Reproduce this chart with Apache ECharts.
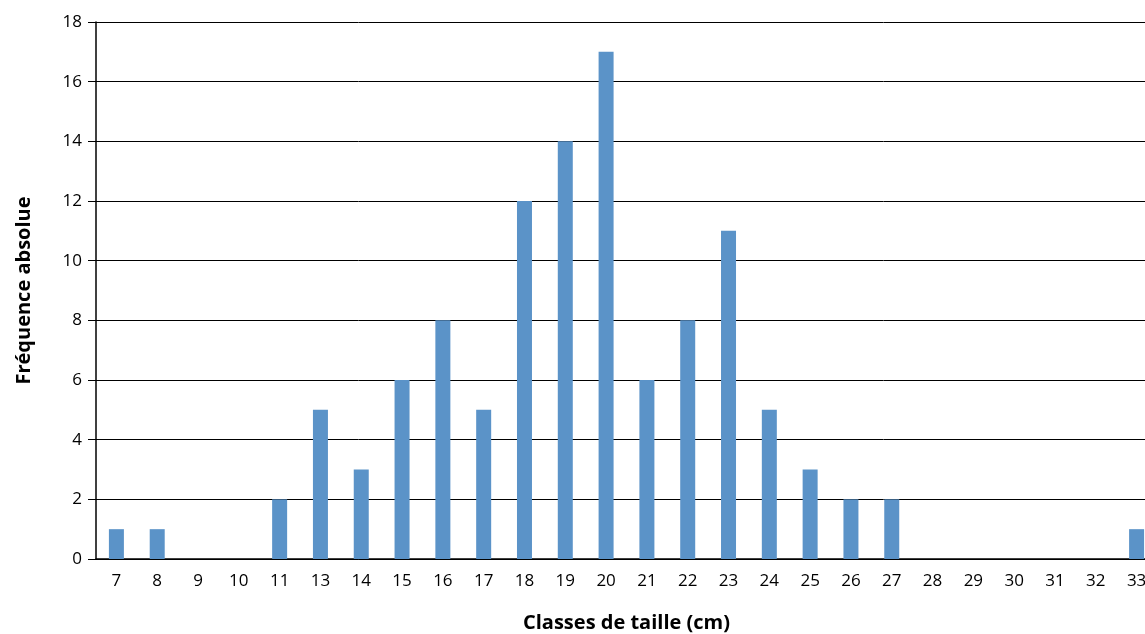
<!DOCTYPE html>
<html><head><meta charset="utf-8">
<script src="https://cdn.jsdelivr.net/npm/echarts@6/dist/echarts.min.js"></script>
<style>html,body{margin:0;padding:0;background:#fff}#c{width:1145px;height:634px}</style>
</head><body><div id="c"></div>
<script>
const categories = ['7','8','9','10','11','13','14','15','16','17','18','19','20','21','22','23','24','25','26','27','28','29','30','31','32','33'];
const frequencies = [1,1,0,0,2,5,3,6,8,5,12,14,17,6,8,11,5,3,2,2,0,0,0,0,0,1];
const yTicks = [0,2,4,6,8,10,12,14,16,18];
const xTitle = 'Classes de taille (cm)';
const yTitle = 'Fréquence absolue';

const chart = echarts.init(document.getElementById('c'), null, {renderer:'canvas'});
const font = '"Open Sans", "Liberation Sans", sans-serif';
chart.setOption({
  animation:false,
  grid:{left:96, width:1061, top:22, bottom:75, containLabel:false, outerBoundsMode:'none'},
  xAxis:{
    type:'category', data:categories,
    name:xTitle, nameLocation:'middle', nameGap:54,
    nameTextStyle:{fontFamily:font, fontSize:20, fontWeight:'bold', color:'#000'},
    axisLine:{lineStyle:{color:'#000', width:1.5}},
    axisTick:{show:false},
    axisLabel:{fontFamily:font, fontSize:17, color:'#000', margin:14, interval:0}
  },
  yAxis:{
    type:'value', min:yTicks[0], max:yTicks[yTicks.length-1], interval:2,
    name:yTitle, nameLocation:'middle', nameGap:62,
    nameTextStyle:{fontFamily:font, fontSize:20, fontWeight:'bold', color:'#000'},
    axisLine:{show:true, lineStyle:{color:'#000', width:1.5}},
    axisTick:{show:true, length:8, lineStyle:{color:'#000'}},
    axisLabel:{fontFamily:font, fontSize:17, color:'#000', margin:14},
    splitLine:{lineStyle:{color:'#000', width:1}}
  },
  series:[{
    type:'bar', data:frequencies, barWidth:15,
    itemStyle:{color:'#5b93c8'}
  }]
});
</script></body></html>
